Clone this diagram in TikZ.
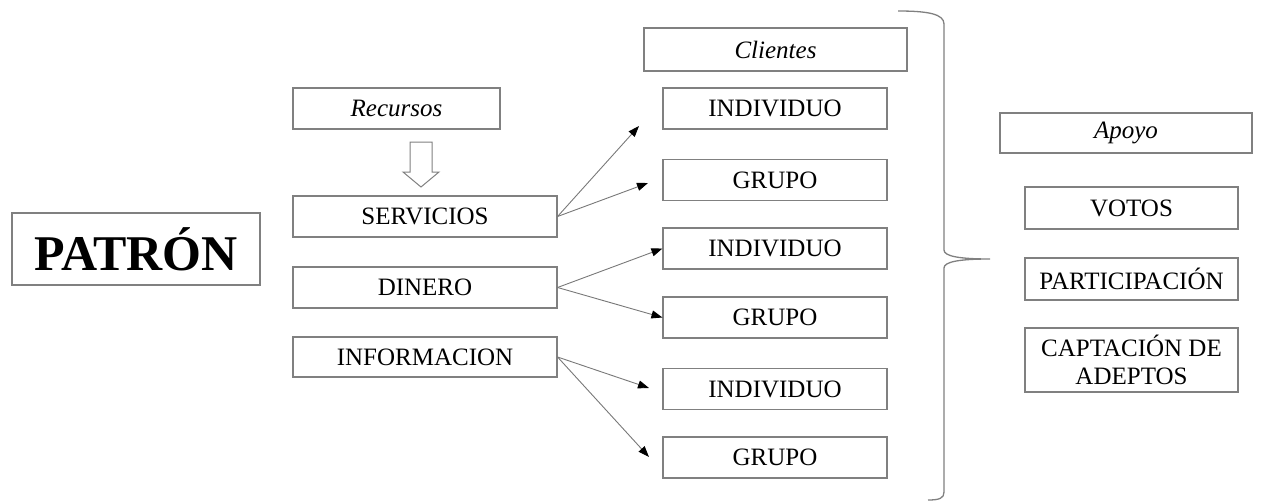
\documentclass[tikz,border=0pt]{standalone}
\usepackage{fontspec}
\setmainfont{Liberation Serif}
\usetikzlibrary{arrows.meta}
\definecolor{boxgray}{RGB}{128,128,128}
\definecolor{linegray}{RGB}{120,120,120}
\begin{document}
\begin{tikzpicture}[x=1pt,y=-1pt]
      \useasboundingbox (0,0) rectangle (1262,503);
      \begin{scope}[every node/.style={draw=boxgray,line width=1.1pt,inner sep=0pt,
                    minimum height=41pt,font=\fontsize{25}{27.5}\selectfont}]
        \node[minimum width=248pt,minimum height=72pt,font=\fontsize{50}{54}\selectfont\bfseries]
          (patron) at (136,249) {PATRÓN};
        % recursos
        \node[minimum width=207pt] (recursos) at (396.5,108.5) {\itshape Recursos};
        \node[minimum width=264pt] (serv) at (425,216.5) {SERVICIOS};
        \node[minimum width=264pt] (din) at (425,287.5) {DINERO};
        \node[minimum width=264pt,minimum height=40pt] (info) at (425,357) {INFORMACION};
        % clientes
        \node[minimum width=263pt,minimum height=43pt] (clientes) at (775.5,49.5) {\itshape Clientes};
        \node[minimum width=224pt] (ind1) at (775,108.5) {INDIVIDUO};
        \node[minimum width=224pt] (gru1) at (775,180) {GRUPO};
        \node[minimum width=224pt] (ind2) at (775,248.5) {INDIVIDUO};
        \node[minimum width=224pt] (gru2) at (775,317.5) {GRUPO};
        \node[minimum width=224pt] (ind3) at (775,389) {INDIVIDUO};
        \node[minimum width=224pt] (gru3) at (775,457.5) {GRUPO};
        % apoyo
        \node[minimum width=252pt,minimum height=40pt] (apoyo) at (1126,133) {\itshape Apoyo};
        \node[minimum width=213pt,minimum height=42pt] (votos) at (1131.5,208) {VOTOS};
        \node[minimum width=213pt,minimum height=42pt] (part) at (1131.5,279) {PARTICIPACIÓN};
        \node[minimum width=213pt,minimum height=64pt,align=center] (capt) at (1131.5,360)
          {CAPTACIÓN DE\\ADEPTOS};
      \end{scope}
      \coordinate (t1) at (639,126);
      \coordinate (t2) at (648,183);
      \coordinate (t5) at (649,388);
      \coordinate (t6) at (649,457);
      \begin{scope}[every edge/.style={draw=linegray,line width=0.9pt,
                    -{Triangle[length=11pt,width=8pt,color=black]}}]
        \path (serv.east) edge (t1)
              (serv.east) edge (t2)
              (din.east) edge (ind2.west)
              (din.east) edge (gru2.west)
              (info.east) edge (t5)
              (info.east) edge (t6);
      \end{scope}
      % flecha hueca
      \draw[draw=boxgray,line width=1pt,fill=white]
        (410,142) -- (432,142) -- (432,172) -- (439,172) -- (421,187)
        -- (403,172) -- (410,172) -- cycle;
      % llave
      \draw[draw=boxgray,line width=1.3pt]
        (898,11) .. controls (928,11) and (944,14) .. (944,24) -- (944,250)
        .. controls (944,256) and (958,259) .. (990,259)
        .. controls (958,259) and (944,262) .. (944,268) -- (944,492)
        .. controls (944,498) and (940,500) .. (928,500);
    \end{tikzpicture}
\end{document}
